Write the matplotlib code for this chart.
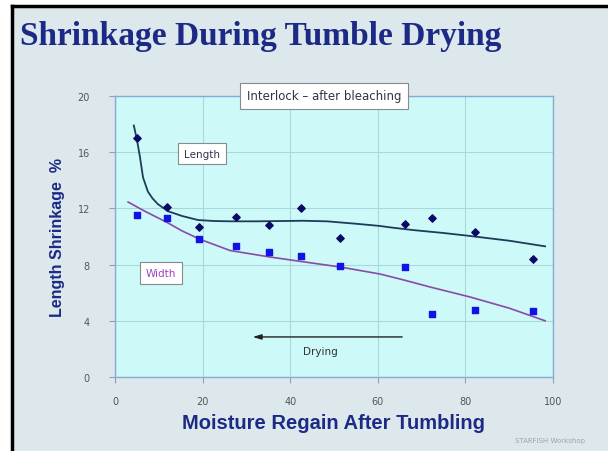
import matplotlib
matplotlib.use("Agg")
import matplotlib.pyplot as plt
from matplotlib.patches import Rectangle
from matplotlib.lines import Line2D

# ---- data ----
moisture = [5.0, 11.9, 19.2, 27.6, 35.2, 42.5, 51.4, 66.2, 72.4, 82.2, 95.4]
length_shrink = [17.0, 12.1, 10.7, 11.4, 10.85, 12.05, 9.9, 10.9, 11.35, 10.3, 8.4]
width_shrink = [11.55, 11.35, 9.8, 9.3, 8.9, 8.6, 7.9, 7.8, 4.5, 4.75, 4.7]

# trend lines as drawn in the picture
length_trend_x = [4.3, 5.0, 5.7, 6.4, 7.5, 8.6, 9.8, 12.1, 15.3, 19.0, 22.8, 26.7,
                  32.0, 37.7, 43.0, 48.4, 55.3, 60.5, 62.8, 68.0, 75.0, 81.0, 90.0, 98.2]
length_trend_y = [17.9, 16.9, 15.66, 14.2, 13.2, 12.7, 12.3, 11.8, 11.46, 11.17, 11.1, 11.08,
                  11.08, 11.1, 11.12, 11.08, 10.9, 10.75, 10.65, 10.46, 10.25, 10.04, 9.7, 9.3]
width_trend_x = [3.0, 6.8, 11.9, 15.3, 19.4, 26.3, 35.4, 43.0, 51.4, 60.5, 66.0, 72.0, 81.0, 90.0, 98.2]
width_trend_y = [12.45, 11.8, 11.0, 10.4, 9.8, 9.0, 8.54, 8.2, 7.83, 7.33, 6.9, 6.4, 5.7, 4.9, 4.0]

x_ticks = [0, 20, 40, 60, 80, 100]
y_ticks = [0, 4, 8, 12, 16, 20]

title = "Shrinkage During Tumble Drying"
x_label = "Moisture Regain After Tumbling"
y_label = "Length Shrinkage  %"

navy = "#1c2a86"
bg = "#dde8ec"

fig = plt.figure(figsize=(6.08, 4.52), dpi=100)
fig.patch.set_facecolor(bg)

# slide border (white margin + black frame on top/left)
fig.patches.append(Rectangle((0, 0), 11/608, 1, transform=fig.transFigure, facecolor="white", edgecolor="none", zorder=0))
fig.patches.append(Rectangle((0, 1 - 6/452), 1, 6/452, transform=fig.transFigure, facecolor="white", edgecolor="none", zorder=0))
fig.add_artist(Line2D([11.5/608, 11.5/608], [0, 1 - 6.5/452], transform=fig.transFigure, color="black", lw=2.5))
fig.add_artist(Line2D([11.5/608, 1], [1 - 6.5/452, 1 - 6.5/452], transform=fig.transFigure, color="black", lw=2.5))

fig.text(20/608, 1 - 37/452, title, family="Liberation Serif", fontweight="bold",
         fontsize=24, color=navy, ha="left", va="center")

ax = fig.add_axes([115/608, 1 - 378/452, (553 - 115)/608, (378 - 97)/452])
ax.set_facecolor("#cdf9f9")
ax.set_xlim(0, 100)
ax.set_ylim(0, 20)
ax.set_xticks(x_ticks)
ax.set_yticks(y_ticks)
ax.grid(True, color="#a9d8dc", lw=0.8)
ax.set_axisbelow(True)
for s in ax.spines.values():
    s.set_color("#88aad4")
    s.set_linewidth(1.0)
ax.tick_params(colors="#8aa0c0", labelcolor="#555555", labelsize=7, length=4, pad=14)
ax.tick_params(axis="x", pad=10)

ax.plot(length_trend_x, length_trend_y, color="#1f3b58", lw=1.3, zorder=3)
ax.plot(width_trend_x, width_trend_y, color="#8a4aa6", lw=1.2, zorder=3)
ax.scatter(moisture, length_shrink, marker="D", s=14, color="#0b0b66", zorder=4)
ax.scatter(moisture, width_shrink, marker="s", s=22, color="#1212e6", zorder=4)

box = dict(boxstyle="square,pad=0.55", facecolor="white", edgecolor="#8a8a8a", lw=0.8)
ax.text(47.7, 20.0, "Interlock \u2013 after bleaching", ha="center", va="center",
        fontsize=8.5, color="#333344", bbox=box, clip_on=False, zorder=6)
ax.text(19.9, 15.9, "Length", ha="center", va="center", fontsize=7.5,
        color="#333355", bbox=box, zorder=6)
ax.text(10.5, 7.4, "Width", ha="center", va="center", fontsize=7.5,
        color="#a040c0", bbox=box, zorder=6)

ax.annotate("", xy=(30.8, 2.85), xytext=(66.2, 2.85),
            arrowprops=dict(arrowstyle="-|>,head_length=0.5,head_width=0.15", color="#222222", lw=1.0))
ax.text(46.8, 1.85, "Drying", ha="center", va="center", fontsize=7.5, color="#333333")

ax.set_xlabel(x_label, fontsize=14.5, fontweight="bold", color=navy, family="Liberation Sans", labelpad=5)
ax.set_ylabel(y_label, fontsize=11.5, fontweight="bold", color=navy, family="Liberation Sans", labelpad=9)

fig.text(550/608, 1 - 441/452, "STARFISH Workshop", fontsize=5, color="#9aa4aa", ha="center", va="center")

fig.savefig("out.png", dpi=100, facecolor=fig.get_facecolor())
